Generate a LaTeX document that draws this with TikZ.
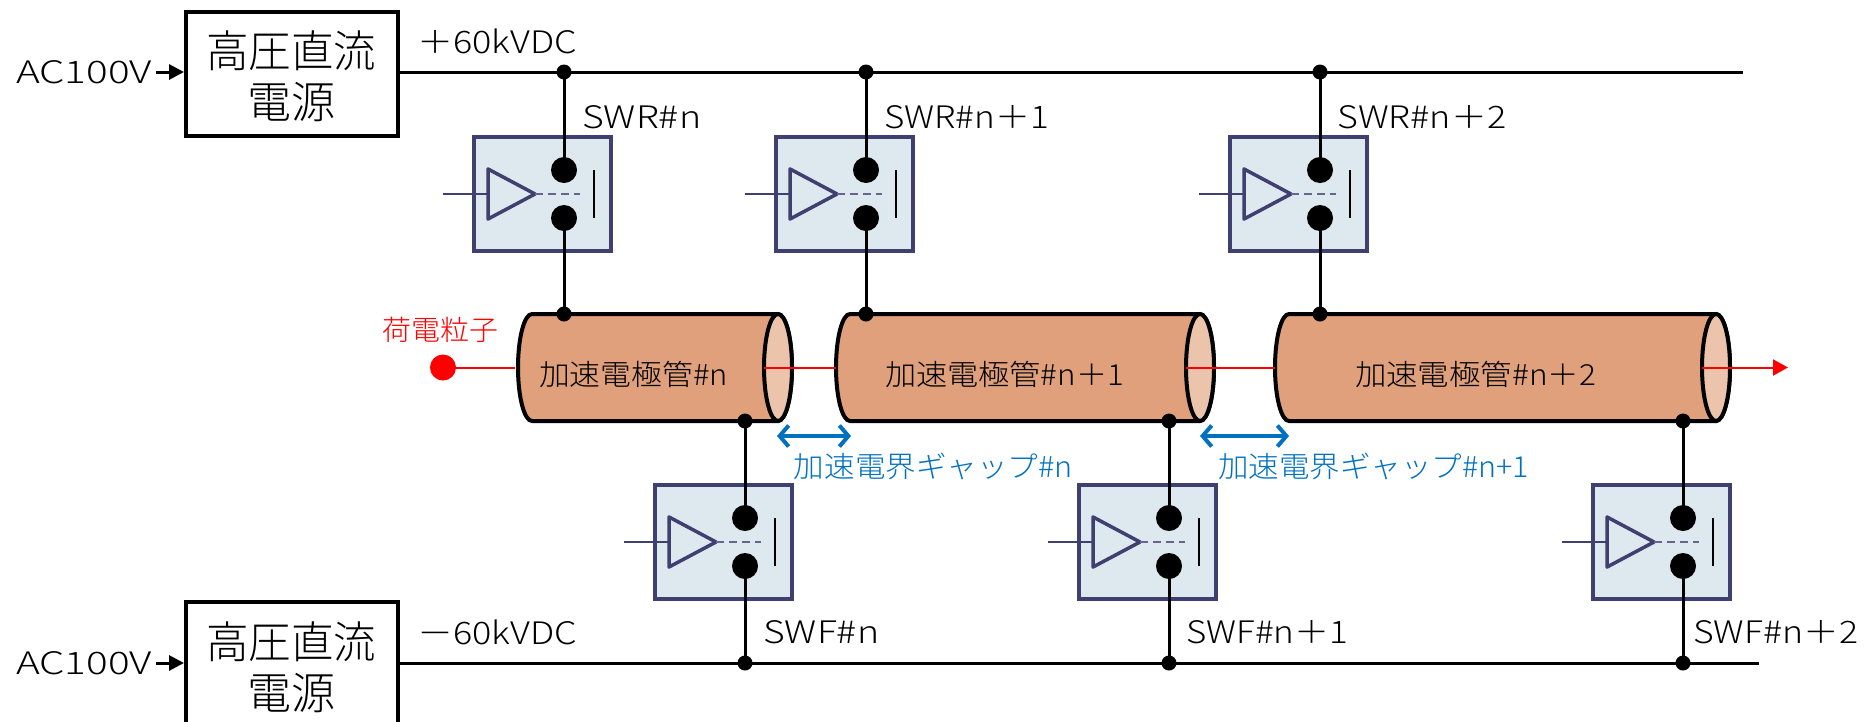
\documentclass[tikz,border=0pt]{standalone}
\usepackage{graphicx}
\usepackage{fontspec}
\setmainfont{Noto Sans CJK JP Light}
\usetikzlibrary{arrows.meta,shapes.geometric}
\definecolor{swfill}{HTML}{DEE8EF}
\definecolor{swedge}{HTML}{3F3F70}
\definecolor{tubefill}{HTML}{E0A07C}
\definecolor{capfill}{HTML}{ECC4AC}
\definecolor{gapblue}{HTML}{0070C0}
\tikzset{
  x=1pt,y=-1pt,
  psubox/.style={draw=black,line width=4pt,fill=white,minimum width=212pt,minimum height=124pt,inner sep=0pt},
  psutext/.style={inner sep=0pt,align=center,font=\fontsize{44}{51}\selectfont},
  swbox/.style={draw=swedge,line width=4pt,fill=swfill,minimum width=137pt,minimum height=114pt,inner sep=0pt},
  contact/.style={circle,fill=black,minimum size=26pt,inner sep=0pt},
  junc/.style={circle,fill=black,minimum size=15pt,inner sep=0pt},
  bus/.style={line width=3pt,black},
  wire/.style={line width=3pt,black},
  beam/.style={line width=2pt,red},
  lbl/.style={anchor=west,inner sep=0pt,font=\fontsize{31}{36}\selectfont},
  tubelbl/.style={inner sep=0pt,font=\fontsize{29}{34}\selectfont},
  gaplbl/.style={inner sep=0pt,text=gapblue,font=\fontsize{29}{34}\selectfont},
  gaparrow/.style={line width=4pt,gapblue,{Straight Barb[length=9pt,width=21pt]}-{Straight Barb[length=9pt,width=21pt]}},
  tube/.style={draw=black,line width=4pt,fill=tubefill},
  tubecap/.style={draw=black,line width=4pt,fill=capfill},
}
\newcommand{\fitw}[2]{\resizebox{#1pt}{\height}{#2}}
% name, contact x, top of box y
\newcommand{\swunit}[3]{%
  \node[swbox,anchor=north west] (#1) at (#2-92.5,#3-2) {};
  \node[contact] (#1a) at (#2,#3+33) {};
  \node[contact] (#1b) at (#2,#3+81) {};
  \coordinate (#1in) at (#2-121,#3+57);
  \coordinate (#1tb) at (#2-76,#3+57);
  \coordinate (#1tip) at (#2-29,#3+57);
  \coordinate (#1end) at (#2+16,#3+57);
  \draw[swedge,line width=1.8pt] (#1in) -- (#1tb);
  \draw[swedge,line width=3.5pt,line join=round,fill=swfill] (#2-76,#3+32) -- (#1tip) -- (#2-76,#3+82) -- cycle;
  \draw[swedge!80,line width=2pt,dash pattern=on 8pt off 5pt] (#1tip) -- (#1end);
  \draw[black,line width=2pt] (#2+30,#3+33) -- (#2+30,#3+81);
}
% name, left-end centre x, right-end centre x
\newcommand{\tubeunit}[3]{%
  \draw[tube] (#2,314) -- (#3,314) arc (-90:90:14 and 53.5) -- (#2,421) arc (90:270:14 and 53.5) -- cycle;
  \draw[tubecap] (#3,367.5) ellipse (14 and 53.5);
  \coordinate (#1L) at (#2-14,367.5);
  \coordinate (#1Ri) at (#3-14,367.5);
}
\begin{document}
\begin{tikzpicture}
\useasboundingbox (0,0) rectangle (1876,721);
\clip (0,0) rectangle (1876,721);
% power supplies
\node[psubox,anchor=north west] (psuT) at (184,10) {};
\node[psubox,anchor=north west,minimum height=140pt] (psuB) at (184,600) {};
\node[psutext] (psuTt) at (291,76) {\fitw{170}{高圧直流}\\電源};
\node[psutext] (psuBt) at (291,667) {\fitw{170}{高圧直流}\\電源};
\node[lbl] (acT) at (16,72) {\fitw{136}{AC100V}};
\node[lbl] (acB) at (16,663) {\fitw{136}{AC100V}};
\draw[wire,-{Triangle[length=15pt,width=15pt]}] (acT.east) ++(4,0) -- (psuT.west |- acT);
\draw[wire,-{Triangle[length=15pt,width=15pt]}] (acB.east) ++(4,0) -- (psuB.west |- acB);
% bus ends
\coordinate (busTend) at (1743,72);
\coordinate (busBend) at (1759,663);
\coordinate (busTstart) at (398,72);
\coordinate (busBstart) at (398,663);
\draw[bus] (busTstart) -- (busTend);
\draw[bus] (busBstart) -- (busBend);
\node[lbl] at (417,41) {\fitw{160}{＋60kVDC}};
\node[lbl] at (417,632) {\fitw{160}{－60kVDC}};
% tubes
\tubeunit{tA}{532}{778}
\tubeunit{tB}{850}{1200}
\tubeunit{tC}{1289}{1716}
% junctions
\foreach \n/\xx in {jTa/564,jTb/866,jTc/1320}{\node[junc] (\n) at (\xx,72) {};}
\foreach \n/\xx in {jUa/564,jUb/866,jUc/1320}{\node[junc] (\n) at (\xx,314) {};}
\foreach \n/\xx in {jLa/745,jLb/1169,jLc/1683}{\node[junc] (\n) at (\xx,421) {};}
\foreach \n/\xx in {jBa/745,jBb/1169,jBc/1683}{\node[junc] (\n) at (\xx,663) {};}
% switches
\swunit{Ra}{564}{137}
\swunit{Rb}{866}{137}
\swunit{Rc}{1320}{137}
\swunit{Fa}{745}{485}
\swunit{Fb}{1169}{485}
\swunit{Fc}{1683}{485}
% connectors
\foreach \s/\j in {Ra/a,Rb/b,Rc/c}{
  \draw[wire] (jT\j.center) -- (\s a.center);
  \draw[wire] (\s b.center) -- (jU\j.center);
}
\foreach \s/\j in {Fa/a,Fb/b,Fc/c}{
  \draw[wire] (jL\j.center) -- (\s a.center);
  \draw[wire] (\s b.center) -- (jB\j.center);
}
% switch labels
\node[lbl] at (582,117) {\fitw{119}{SWR\#n}};
\node[lbl] at (884,117) {\fitw{165}{SWR\#n＋1}};
\node[lbl] at (1337,117) {\fitw{169}{SWR\#n＋2}};
\node[lbl] at (763,632) {\fitw{116}{SWF\#n}};
\node[lbl] at (1186,632) {\fitw{162}{SWF\#n＋1}};
\node[lbl] at (1693,632) {\fitw{165}{SWF\#n＋2}};
% beam
\node[circle,fill=red,minimum size=26pt,inner sep=0pt] (src) at (443,367.5) {};
\node[inner sep=0pt,text=red,font=\fontsize{28}{34}\selectfont] at (440,330) {\fitw{116}{荷電粒子}};
\coordinate (beamEnd) at (1788,367.5);
\draw[beam] (src.center) -- (515,367.5);
\draw[beam] (tARi) -- (tBL);
\draw[beam] (tBRi) -- (tCL);
\draw[beam,-{Triangle[length=15pt,width=16pt]}] (tCRi) -- (beamEnd);
% tube labels
\node[tubelbl] at (633.5,374) {\fitw{189}{加速電極管\#n}};
\node[tubelbl] at (1004.5,374) {\fitw{239}{加速電極管\#n＋1}};
\node[tubelbl] at (1475.5,374) {\fitw{241}{加速電極管\#n＋2}};
% gaps
\coordinate (gA1) at (777,436);
\coordinate (gA2) at (851,436);
\coordinate (gB1) at (1200,436);
\coordinate (gB2) at (1289,436);
\draw[gaparrow] (gA1) -- (gA2);
\draw[gaparrow] (gB1) -- (gB2);
\node[gaplbl] at (933.5,466) {\fitw{279}{加速電界ギャップ\#n}};
\node[gaplbl] at (1373.5,466) {\fitw{311}{加速電界ギャップ\#n+1}};
\end{tikzpicture}
\end{document}
